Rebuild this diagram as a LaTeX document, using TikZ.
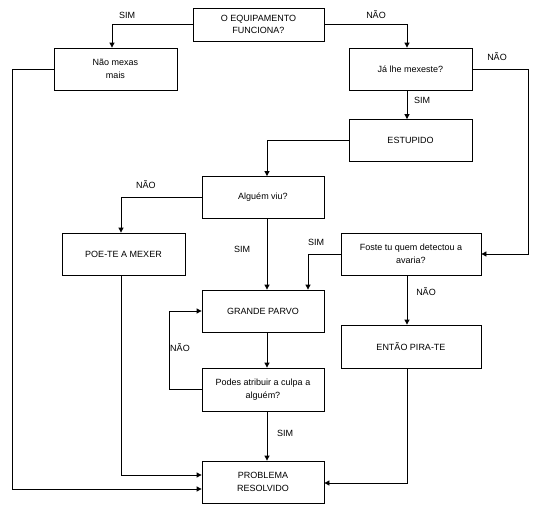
\documentclass[tikz,border=0pt]{standalone}
\usepackage{fontspec}
\setmainfont{Liberation Sans}
\usetikzlibrary{arrows.meta,calc}

\begin{document}
\begin{tikzpicture}[x=1pt,y=-1pt,line width=0.8pt,
    font=\fontsize{9}{12.5}\selectfont,
    box/.style={draw,fill=white,align=center,minimum width=123pt,minimum height=42pt,inner sep=2pt},
    arr/.style={-{Triangle[length=5pt,width=5pt]}},
    lbl/.style={inner sep=0pt}]
    \fill[white] (0,0) rectangle (558,522);
    \useasboundingbox (0,0) rectangle (558,522);

    % caixas
    \node[box,minimum width=131pt,minimum height=33pt] (equip) at (258.5,24.5) {O EQUIPAMENTO\\FUNCIONA?};
    \node[box] (naomexas) at (115.5,69) {Não mexas\\mais};
    \node[box] (jalhe) at (410.5,69) {Já lhe mexeste?};
    \node[box] (estupido) at (410.5,140.5) {ESTUPIDO};
    \node[box,minimum width=122pt] (alguem) at (263,197.5) {Alguém viu?};
    \node[box] (poete) at (123.5,254) {POE-TE A MEXER};
    \node[box,minimum width=140pt] (foste) at (411,254) {Foste tu quem detectou a\\avaria?};
    \node[box,minimum width=122pt] (grande) at (263,311) {GRANDE PARVO};
    \node[box,minimum width=140pt,minimum height=43pt] (entao) at (411,346.5) {ENTÃO PIRA-TE};
    \node[box,minimum width=122pt,minimum height=43pt] (podes) at (263,389.5) {Podes atribuir a culpa a\\alguém?};
    \node[box,minimum width=122pt] (problema) at (263,482) {PROBLEMA\\RESOLVIDO};

    % ligacoes
    \draw[arr] (equip.west) -| ([xshift=-3.5pt]naomexas.north);
    \draw[arr] (equip.east) -| ([xshift=-3.5pt]jalhe.north);
    \draw[arr] (jalhe.east) -- ++(56,0) |- (foste.east);
    \draw[arr] ([xshift=-3.5pt]jalhe.south) -- ([xshift=-3.5pt]estupido.north);
    \draw[arr] (estupido.west) -| ([xshift=4pt]alguem.north);
    \draw[arr] (alguem.west) -| ([xshift=-2.5pt]poete.north);
    \draw[arr] ([xshift=4pt]alguem.south) -- ([xshift=4pt]grande.north);
    \draw[arr] (foste.west) -| ([xshift=45pt]grande.north);
    \draw[arr] ([xshift=-4pt]foste.south) -- ([xshift=-4pt]entao.north);
    \draw[arr] ([xshift=4pt]grande.south) -- ([xshift=4pt]podes.north);
    \draw[arr] (podes.west) -- ++(-32,0) |- (grande.west);
    \draw[arr] ([xshift=4pt]podes.south) -- ([xshift=4pt]problema.north);
    \draw[arr] ([xshift=-2.5pt]poete.south) |- ([yshift=7pt]problema.west);
    \draw[arr] (naomexas.west) -- ++(-41,0) |- ([yshift=-7pt]problema.west);
    \draw[arr] ([xshift=-4pt]entao.south) |- ([yshift=-1pt]problema.east);

    % respostas
    \node[lbl] (l1) at (127,15) {SIM};
    \node[lbl] (l2) at (376,15) {NÃO};
    \node[lbl] (l3) at (497,57) {NÃO};
    \node[lbl] (l4) at (422,100) {SIM};
    \node[lbl] (l5) at (146,185) {NÃO};
    \node[lbl] (l6) at (242,249) {SIM};
    \node[lbl] (l7) at (316,242) {SIM};
    \node[lbl] (l8) at (426,292) {NÃO};
    \node[lbl] (l9) at (180,348) {NÃO};
    \node[lbl] (l10) at (285,433) {SIM};
\end{tikzpicture}
\end{document}
